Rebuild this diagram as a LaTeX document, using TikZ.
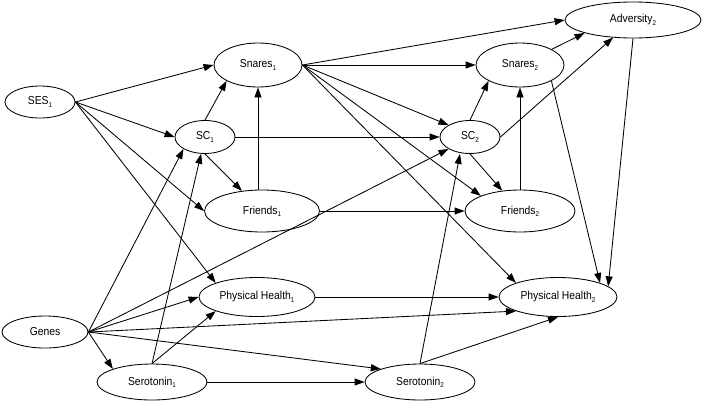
\documentclass[tikz,border=0pt]{standalone}
\usepackage{fontspec}
\setmainfont{Liberation Sans}[FakeStretch=0.9]
\usetikzlibrary{shapes.geometric,arrows.meta}
\newcommand{\sub}[1]{\raisebox{-0.35ex}{\fontsize{7}{8}\selectfont #1}}
\begin{document}
\begin{tikzpicture}[x=1pt,y=-1pt,
  var/.style={draw,ellipse,inner sep=0pt,line width=0.85pt,font=\fontsize{11.5}{13}\selectfont},
  arr/.style={line width=0.85pt,-{Triangle[length=10pt,width=7pt]}}]
\useasboundingbox (0,0) rectangle (704,402);
\node[var,minimum width=70pt,minimum height=32pt] (SES1) at (40,102) {SES\sub{1}};
\node[var,minimum width=88pt,minimum height=44pt] (Sn1) at (258,65) {Snares\sub{1}};
\node[var,minimum width=60pt,minimum height=33pt] (SC1) at (205,137) {SC\sub{1}};
\node[var,minimum width=115pt,minimum height=42pt] (Fr1) at (262,211) {Friends\sub{1}};
\node[var,minimum width=116pt,minimum height=39pt] (PH1) at (257,297) {Physical Health\sub{1}};
\node[var,minimum width=86pt,minimum height=32pt] (Genes) at (45,332) {Genes};
\node[var,minimum width=110pt,minimum height=36pt] (Se1) at (152,382) {Serotonin\sub{1}};
\node[var,minimum width=136pt,minimum height=36pt] (Adv) at (633,20) {Adversity\sub{2}};
\node[var,minimum width=88pt,minimum height=44pt] (Sn2) at (520,65) {Snares\sub{2}};
\node[var,minimum width=60pt,minimum height=33pt] (SC2) at (470,137) {SC\sub{2}};
\node[var,minimum width=110pt,minimum height=42pt] (Fr2) at (520,211) {Friends\sub{2}};
\node[var,minimum width=118pt,minimum height=39pt] (PH2) at (558,297) {Physical Health\sub{2}};
\node[var,minimum width=110pt,minimum height=36pt] (Se2) at (420,382) {Serotonin\sub{2}};
% SES1
\draw[arr] (SES1.east) -- (Sn1.west);
\draw[arr] (SES1.east) -- (SC1.west);
\draw[arr] (SES1.east) -- (Fr1.west);
\draw[arr] (SES1.east) -- (PH1.north west);
% SC1
\draw[arr] (SC1.north) -- (Sn1.south west);
\draw[arr] (SC1.south) -- (Fr1);
\draw[arr] (SC1.east) -- (SC2.west);
% Friends1
\draw[arr] (Fr1.north -| Sn1.south) -- (Sn1.south);
\draw[arr] (Fr1.east) -- (Fr2.west);
% Snares1
\draw[arr] (Sn1.east) -- (Adv.west);
\draw[arr] (Sn1.east) -- (Sn2.west);
\draw[arr] (Sn1.east) -- (SC2.north west);
\draw[arr] (Sn1.east) -- (Fr2.north west);
\draw[arr] (Sn1.east) -- (PH2.north west);
% Genes
\draw[arr] (Genes.east) -- (SC1.south west);
\draw[arr] (Genes.east) -- (SC2.south west);
\draw[arr] (Genes.east) -- (PH1.west);
\draw[arr] (Genes.east) -- (PH2.south west);
\draw[arr] (Genes.east) -- (Se1.north west);
\draw[arr] (Genes.east) -- (Se2.north west);
% Serotonin
\draw[arr] (Se1.north) -- (SC1);
\draw[arr] (Se1.north) -- (PH1.south west);
\draw[arr] (Se1.east) -- (Se2.west);
\draw[arr] (Se2.north) -- ([xshift=-10pt]SC2.south);
\draw[arr] (Se2.north) -- (PH2.south);
% Physical health
\draw[arr] (PH1.east) -- (PH2.west);
% SC2
\draw[arr] (SC2.north) -- (Sn2.south west);
\draw[arr] (SC2.south) -- (Fr2);
\draw[arr] (SC2.east) -- (Adv);
% Friends2, Snares2, Adversity2
\draw[arr] (Fr2.north -| Sn2.south) -- (Sn2.south);
\draw[arr] (Sn2) -- (Adv.south west);
\draw[arr] (Sn2.south east) -- (PH2.north east);
\draw[arr] (Adv.south) -- (PH2.12);
\end{tikzpicture}
\end{document}
